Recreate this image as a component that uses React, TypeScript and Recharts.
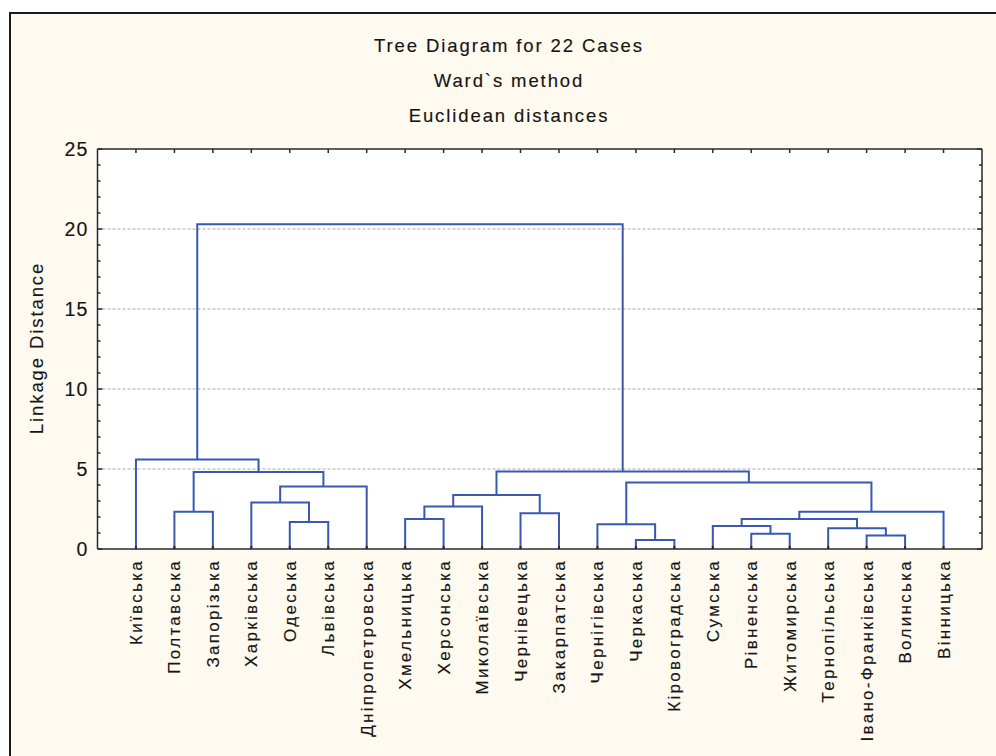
import React from 'react';
import { LineChart, Line, XAxis, YAxis, CartesianGrid } from 'recharts';

const leafLabels = [
  'Київська', 'Полтавська', 'Запорізька', 'Харківська', 'Одеська', 'Львівська',
  'Дніпропетровська', 'Хмельницька', 'Херсонська', 'Миколаївська', 'Чернівецька',
  'Закарпатська', 'Чернігівська', 'Черкаська', 'Кіровоградська', 'Сумська',
  'Рівненська', 'Житомирська', 'Тернопільська', 'Івано-Франківська', 'Волинська', 'Вінницька',
];

// merge k creates node id = 22 + k; children refer to leaf index (0..21) or node id
const mergeLeft = [13, 19, 16, 18, 15, 12, 4, 7, 26, 10, 1, 30, 29, 3, 34, 35, 27, 32, 36, 0, 41];
const mergeRight = [14, 20, 17, 23, 24, 22, 5, 8, 25, 11, 2, 21, 9, 28, 31, 6, 33, 37, 38, 39, 40];
const mergeHeight = [0.56, 0.85, 0.96, 1.29, 1.44, 1.54, 1.69, 1.87, 1.87, 2.23, 2.33, 2.33, 2.65, 2.9, 3.37, 3.9, 4.15, 4.82, 4.85, 5.6, 20.3];

const yTicks = [0, 1, 2, 3, 4, 5, 6, 7, 8, 9, 10, 11, 12, 13, 14, 15, 16, 17, 18, 19, 20, 21, 22, 23, 24, 25];
const gridValues = [5, 10, 15, 20];
const leafTicks = leafLabels.map((_, i) => i + 1);
const titleLines = ['Tree Diagram for 22 Cases', 'Ward`s method', 'Euclidean distances'];
const yAxisTitle = 'Linkage Distance';

type Pt = { x: number; y: number | null };

function buildSegments(): Pt[] {
  const nodeX: number[] = leafLabels.map((_, i) => i + 1);
  const nodeH: number[] = leafLabels.map(() => 0);
  const pts: Pt[] = [];
  mergeLeft.forEach((a, k) => {
    const b = mergeRight[k];
    const h = mergeHeight[k];
    pts.push({ x: nodeX[a], y: nodeH[a] });
    pts.push({ x: nodeX[a], y: h });
    pts.push({ x: nodeX[b], y: h });
    pts.push({ x: nodeX[b], y: nodeH[b] });
    pts.push({ x: nodeX[b], y: null });
    nodeX.push((nodeX[a] + nodeX[b]) / 2);
    nodeH.push(h);
  });
  return pts;
}

const segments = buildSegments();

const FONT = '"Liberation Sans", Arial, sans-serif';
const AXIS = '#2a2a2a';
const TXT = '#151515';
const SW = 0.15;

const LeafTick = (props: any) => {
  const { x, y, payload } = props;
  const label = leafLabels[payload.value - 1];
  const tx = x + 6;
  const ty = y + 10;
  return (
    <g>
      <line x1={x} y1={y} x2={x} y2={y - 3} stroke={AXIS} strokeWidth={2} />
      <text x={tx} y={ty} transform={`rotate(-90 ${tx} ${ty})`} textAnchor="end" fontSize={17}
        letterSpacing={2.3} fill={TXT} stroke={TXT} strokeWidth={SW} fontFamily={FONT}>{label}</text>
    </g>
  );
};

const TopTick = (props: any) => {
  const { x, y } = props;
  return <line x1={x} y1={y} x2={x} y2={y + 4} stroke={AXIS} strokeWidth={1.5} />;
};

const LeftTick = (props: any) => {
  const { x, y, payload } = props;
  const major = payload.value % 5 === 0;
  return (
    <g>
      <line x1={x} y1={y} x2={x + (major ? 5 : 3)} y2={y} stroke={AXIS} strokeWidth={1.5} />
      {major && (
        <text x={x - 9} y={y} dy="0.36em" textAnchor="end" fontSize={19.5} letterSpacing={1.2}
          fill={TXT} stroke={TXT} strokeWidth={SW} fontFamily={FONT}>{payload.value}</text>
      )}
    </g>
  );
};

const RightTick = (props: any) => {
  const { x, y, payload } = props;
  const major = payload.value % 5 === 0;
  return <line x1={x} y1={y} x2={x - (major ? 5 : 3)} y2={y} stroke={AXIS} strokeWidth={1.5} />;
};

export default function App() {
  return (
    <div style={{ position: 'absolute', left: 0, top: 0, width: 996, height: 756, background: '#fff', overflow: 'hidden' }}>
      <div style={{ position: 'absolute', left: 9, top: 12, width: 1000, height: 800, background: '#fffaef', borderLeft: '2px solid #1a1a1a', borderTop: '2px solid #1a1a1a' }} />
      <svg width={996} height={756} style={{ position: 'absolute', left: 0, top: 0 }}>
        {titleLines.map((t, i) => (
          <text key={t} x={509} y={52 + i * 35} textAnchor="middle" fontSize={18.5} letterSpacing={1.9}
            fill={TXT} stroke={TXT} strokeWidth={SW} fontFamily={FONT}>{t}</text>
        ))}
        <text x={43} y={348} transform="rotate(-90 43 348)" textAnchor="middle" fontSize={18.5}
          letterSpacing={1.9} fill={TXT} stroke={TXT} strokeWidth={SW} fontFamily={FONT}>{yAxisTitle}</text>
      </svg>
      <div style={{ position: 'absolute', left: 0, top: 0 }}>
        <LineChart width={996} height={756} data={segments}
          margin={{ top: 148, right: 10, bottom: 17, left: 37.5 }}>
          <CartesianGrid fill="#fff" vertical={false} horizontalValues={gridValues}
            stroke="#a8a8a8" strokeDasharray="3 2" />
          <XAxis dataKey="x" type="number" domain={[0, 23]} allowDataOverflow ticks={leafTicks}
            interval={0} tickSize={0} tickMargin={0} height={190} tick={<LeafTick />}
            axisLine={{ stroke: AXIS, strokeWidth: 1.5 }} tickLine={false} />
          <XAxis xAxisId="top" orientation="top" dataKey="x" type="number" domain={[0, 23]} allowDataOverflow
            ticks={leafTicks} interval={0} tickSize={0} tickMargin={0} height={1} tick={<TopTick />}
            axisLine={{ stroke: AXIS, strokeWidth: 1.5 }} tickLine={false} />
          <YAxis type="number" domain={[0, 25]} allowDataOverflow ticks={yTicks} interval={0}
            tickSize={0} tickMargin={0} width={60} tick={<LeftTick />}
            axisLine={{ stroke: AXIS, strokeWidth: 1.5 }} tickLine={false} />
          <YAxis yAxisId="right" orientation="right" type="number" domain={[0, 25]} allowDataOverflow
            ticks={yTicks} interval={0} tickSize={0} tickMargin={0} width={4} tick={<RightTick />}
            axisLine={{ stroke: AXIS, strokeWidth: 1.5 }} tickLine={false} />
          <Line dataKey="y" type="linear" stroke="#3858b2" strokeWidth={2} dot={false}
            activeDot={false} connectNulls={false} isAnimationActive={false} />
        </LineChart>
      </div>
    </div>
  );
}
